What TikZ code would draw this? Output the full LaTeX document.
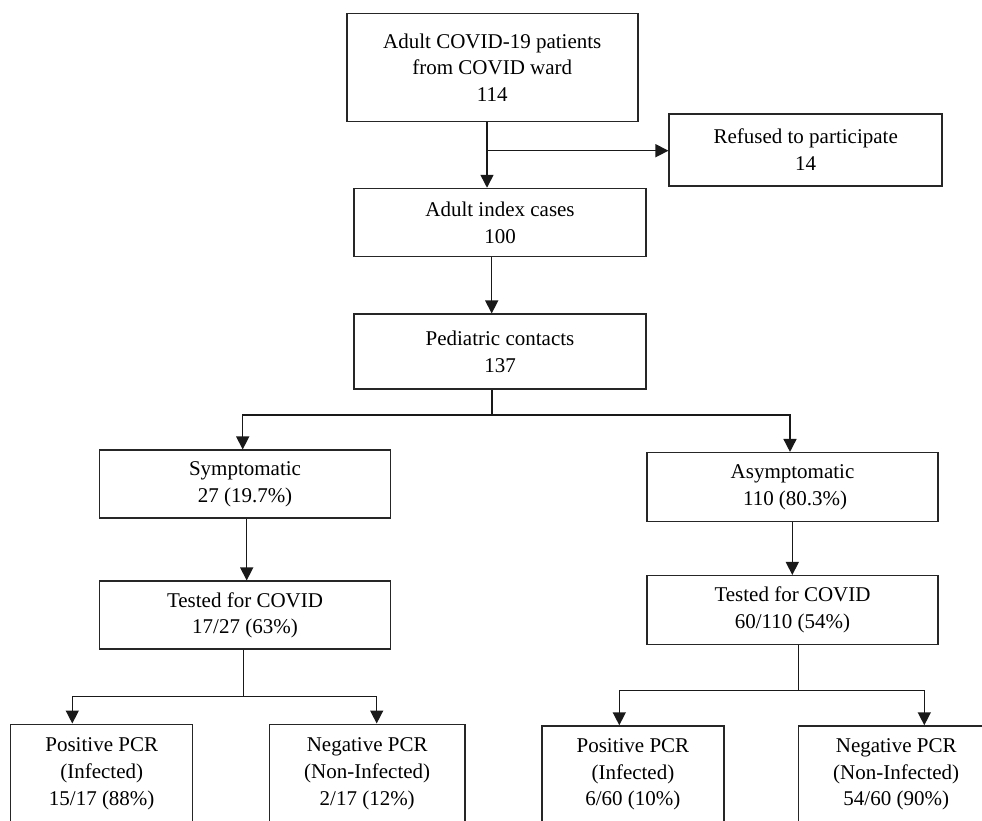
\documentclass[tikz,border=0pt]{standalone}
\usepackage{fontspec}
\setmainfont{Liberation Serif}
\usetikzlibrary{arrows.meta}
\begin{document}
\begin{tikzpicture}[x=1pt,y=-1pt,
  box/.style={draw=black!85,line width=1.5pt,inner sep=0pt,align=center,
    font=\fontsize{21}{26.7}\selectfont},
  conn/.style={line width=1.5pt,black!90},
  arr/.style={conn,-{Triangle[length=13pt,width=13pt]}}]
\useasboundingbox (0,0) rectangle (982,820);
\clip (0,0) rectangle (982,820);
\node[box,minimum width=291pt,minimum height=108pt] (b1) at (492.3,67.5) {Adult COVID-19 patients\\from COVID ward\\114};
\node[box,minimum width=273pt,minimum height=72pt] (ref) at (805.7,149.9) {Refused to participate\\14};
\node[box,minimum width=292pt,minimum height=68pt] (b2) at (500,222.5) {Adult index cases\\100};
\node[box,minimum width=292pt,minimum height=75pt] (b3) at (500,351.7) {Pediatric contacts\\137};
\node[box,minimum width=291pt,minimum height=68pt] (sym) at (245,484.2) {Symptomatic\\27 (19.7\%)};
\node[box,minimum width=291pt,minimum height=69pt] (asym) at (792.5,487.2) {Asymptomatic\\\ 110 (80.3\%)};
\node[box,minimum width=291pt,minimum height=68pt] (tl) at (245,615.2) {Tested for COVID\\17/27 (63\%)};
\node[box,minimum width=291pt,minimum height=68.6pt] (tr) at (792.5,610) {Tested for COVID\\60/110 (54\%)};
\node[box,minimum width=182pt,minimum height=98.7pt] (pl) at (101.7,773.6) {Positive PCR\\(Infected)\\15/17 (88\%)};
\node[box,minimum width=195.7pt,minimum height=98.7pt] (nl) at (367.2,773.6) {Negative PCR\\(Non-Infected)\\2/17 (12\%)};
\node[box,minimum width=182.3pt,minimum height=97pt] (pr) at (632.9,774.5) {Positive PCR\\(Infected)\\6/60 (10\%)};
\node[box,minimum width=195.7pt,minimum height=97pt] (nr) at (896.2,774.5) {Negative PCR\\(Non-Infected)\\54/60 (90\%)};
% connectors
\coordinate (x1) at (487,0);
\coordinate (j1) at (487,150.7);
\draw[arr] (b1.south -| x1) -- (b2.north -| x1);
\draw[arr] (j1) -- (ref.west |- j1);
\coordinate (x2) at (491.7,0);
\draw[arr] (b2.south -| x2) -- (b3.north -| x2);
\coordinate (j2) at (492,415);
\coordinate (s1) at (242.7,0);
\coordinate (s2) at (790,0);
\draw[conn] (b3.south -| j2) -- (j2);
\draw[arr] (j2) -| (sym.north -| s1);
\draw[arr] (j2) -| (asym.north -| s2);
\coordinate (x3) at (246.7,0);
\draw[arr] (sym.south -| x3) -- (tl.north -| x3);
\coordinate (x4) at (792.3,0);
\draw[arr] (asym.south -| x4) -- (tr.north -| x4);
\coordinate (j3) at (243.7,696.7);
\coordinate (s3) at (72.3,0);
\coordinate (s4) at (376.7,0);
\draw[conn] (tl.south -| j3) -- (j3);
\draw[arr] (j3) -| (pl.north -| s3);
\draw[arr] (j3) -| (nl.north -| s4);
\coordinate (j4) at (798.3,690.7);
\coordinate (s5) at (619.3,0);
\coordinate (s6) at (924.3,0);
\draw[conn] (tr.south -| j4) -- (j4);
\draw[arr] (j4) -| (pr.north -| s5);
\draw[arr] (j4) -| (nr.north -| s6);
\end{tikzpicture}
\end{document}
